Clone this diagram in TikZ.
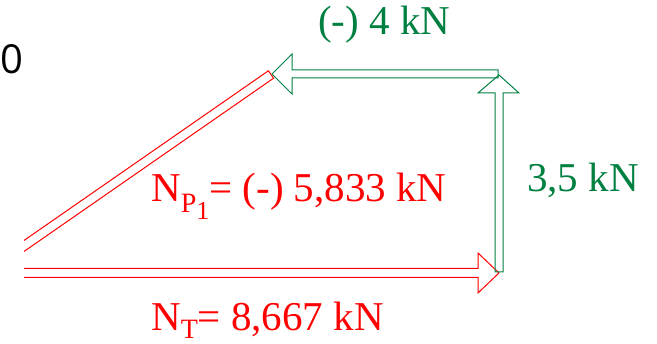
\documentclass[tikz,border=0pt]{standalone}
\usepackage{fontspec}
\setmainfont{Liberation Serif}
\newfontfamily\labelfont{Liberation Serif}
\newfontfamily\zerofont{Open Sans}
\usepackage{tikz}
\usetikzlibrary{positioning}
\definecolor{forcered}{RGB}{255,0,0}
\definecolor{forcegreen}{RGB}{0,128,64}
\newcommand{\lblsize}{\labelfont\fontsize{41}{41}\selectfont}
\newcommand{\lowsub}[3]{\raisebox{-#1}{\fontsize{#2}{#2}\selectfont #3}}

\begin{document}
\begin{tikzpicture}[x=1pt,y=-1pt,
  arrowline/.style={line width=1pt},
  lbl/.style={anchor=base west,inner sep=0pt,font=\lblsize}]
\useasboundingbox (0,0) rectangle (657,344);

\begin{scope}
\clip (24,0) rectangle (657,344);
% N_T
\draw[arrowline,forcered] (10,268.5) -- (478,268.5) -- (478,253) -- (499,273) -- (478,293) -- (478,277.5) -- (10,277.5);
% N_P1
\draw[arrowline,forcered] (7.4,252) -- (268.4,70.8) -- (273.6,78.2) -- (12.6,259.4);
\end{scope}

% 3,5 kN
\draw[arrowline,forcegreen] (495,272) -- (495,93) -- (478,93) -- (499,75) -- (519,93) -- (503,93) -- (503,272) -- cycle;
% 4 kN
\draw[arrowline,forcegreen] (498,70) -- (292,70) -- (292,54) -- (272,74) -- (292,94) -- (292,78) -- (498,78) -- cycle;

\node[anchor=base west,inner sep=0pt,font=\zerofont\fontsize{40}{40}\selectfont] (zero) at (0,74) {0};
\node[lbl,forcegreen] (h) at (318,35) {(-) 4 kN};
\node[lbl,forcegreen] (v) at (527,192) {3,5 kN};
\node[lbl,forcered] (np) at (151,202) {N\lowsub{11pt}{28}{P\lowsub{7pt}{26}{1}}= (-) 5,833 kN};
\node[lbl,forcered] (nt) at (151,331) {N\lowsub{8pt}{28}{T}= 8,667 kN};
\end{tikzpicture}
\end{document}
